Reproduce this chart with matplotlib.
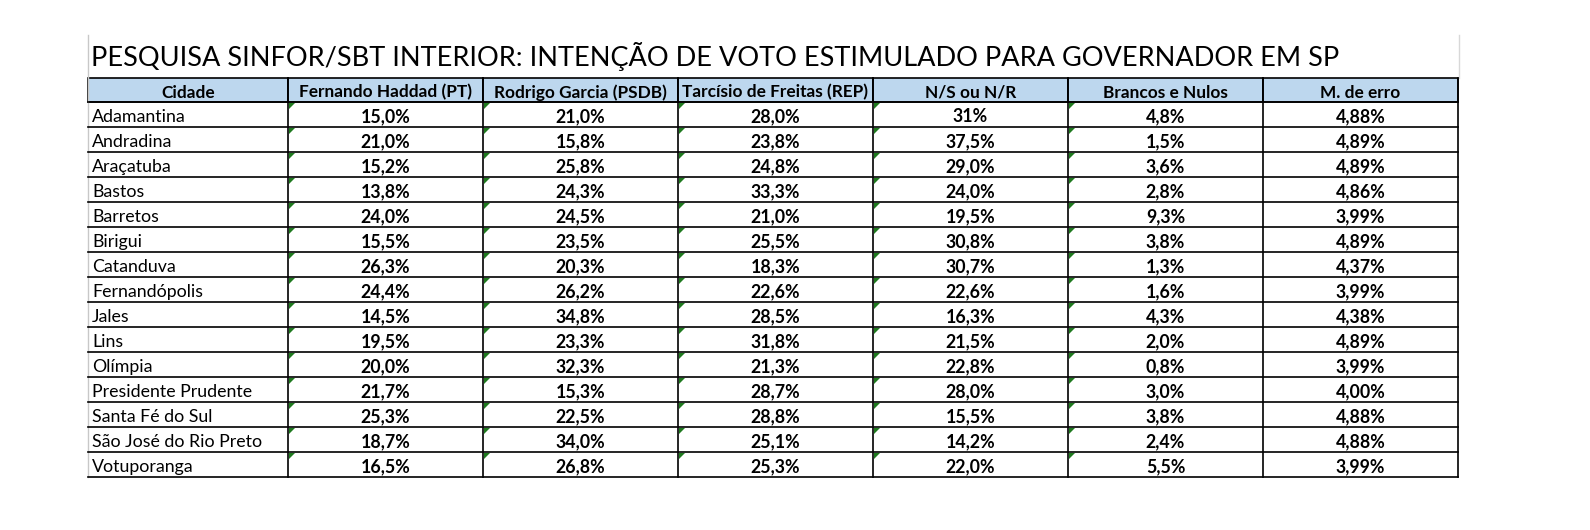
import matplotlib.pyplot as plt
from matplotlib.patches import Rectangle, Polygon

# Dados da tabela
titulo = 'PESQUISA SINFOR/SBT INTERIOR: INTENÇÃO DE VOTO ESTIMULADO PARA GOVERNADOR EM SP'
colunas = ['Cidade', 'Fernando Haddad (PT)', 'Rodrigo Garcia (PSDB)', 'Tarcísio de Freitas (REP)',
           'N/S ou N/R', 'Brancos e Nulos', 'M. de erro']
cidades = ['Adamantina', 'Andradina', 'Araçatuba', 'Bastos', 'Barretos', 'Birigui', 'Catanduva',
           'Fernandópolis', 'Jales', 'Lins', 'Olímpia', 'Presidente Prudente', 'Santa Fé do Sul',
           'São José do Rio Preto', 'Votuporanga']
haddad = ['15,0%', '21,0%', '15,2%', '13,8%', '24,0%', '15,5%', '26,3%', '24,4%', '14,5%', '19,5%',
          '20,0%', '21,7%', '25,3%', '18,7%', '16,5%']
garcia = ['21,0%', '15,8%', '25,8%', '24,3%', '24,5%', '23,5%', '20,3%', '26,2%', '34,8%', '23,3%',
          '32,3%', '15,3%', '22,5%', '34,0%', '26,8%']
tarcisio = ['28,0%', '23,8%', '24,8%', '33,3%', '21,0%', '25,5%', '18,3%', '22,6%', '28,5%', '31,8%',
            '21,3%', '28,7%', '28,8%', '25,1%', '25,3%']
ns_nr = ['31%', '37,5%', '29,0%', '24,0%', '19,5%', '30,8%', '30,7%', '22,6%', '16,3%', '21,5%',
         '22,8%', '28,0%', '15,5%', '14,2%', '22,0%']
brancos = ['4,8%', '1,5%', '3,6%', '2,8%', '9,3%', '3,8%', '1,3%', '1,6%', '4,3%', '2,0%',
           '0,8%', '3,0%', '3,8%', '2,4%', '5,5%']
erro = ['4,88%', '4,89%', '4,89%', '4,86%', '3,99%', '4,89%', '4,37%', '3,99%', '4,38%', '4,89%',
        '3,99%', '4,00%', '4,88%', '4,88%', '3,99%']

plt.rcParams['font.family'] = ['Lato', 'DejaVu Sans']

W, H = 1590, 530
fig = plt.figure(figsize=(W / 100, H / 100), dpi=100)
ax = fig.add_axes([0, 0, 1, 1])
ax.set_xlim(0, W)
ax.set_ylim(H, 0)
ax.axis('off')

# geometria (pixels)
x_bordas = [88, 288, 483, 678, 873, 1068, 1263, 1458]
y_topo = 78
h_cab = 24
h_lin = 25
n = len(cidades)
y_fim = y_topo + h_cab + n * h_lin

# linhas de grade cinzas do Excel
ax.plot([88, 88], [35, y_fim], color='#c8c8c8', lw=1)
ax.plot([1459, 1459], [35, y_topo], color='#d8d8d8', lw=1)

ax.text(91, 66, titulo, fontsize=19.5, ha='left', va='baseline', color='black')

# cabeçalho
for i, col in enumerate(colunas):
    x0, x1 = x_bordas[i], x_bordas[i + 1]
    ax.add_patch(Rectangle((x0, y_topo), x1 - x0, h_cab, facecolor='#bdd7ee',
                           edgecolor='black', lw=1.2))
    ax.text((x0 + x1) / 2, y_topo + h_cab / 2 + 2.5, col, fontsize=12.4, fontweight='bold',
            ha='center', va='center')

valores = [haddad, garcia, tarcisio, ns_nr, brancos, erro]
for r in range(n):
    y0 = y_topo + h_cab + r * h_lin
    ax.text(x_bordas[0] + 4, y0 + h_lin / 2 + 2.5, cidades[r], fontsize=12.8, ha='left', va='center')
    for c, serie in enumerate(valores):
        x0, x1 = x_bordas[c + 1], x_bordas[c + 2]
        ax.text((x0 + x1) / 2, y0 + h_lin / 2 + 2.5, serie[r], fontsize=12.8, fontweight='bold',
                ha='center', va='center')
        if c < 5:
            # triângulo verde (número armazenado como texto)
            ax.add_patch(Polygon([(x0 + 1, y0 + 1), (x0 + 7, y0 + 1), (x0 + 1, y0 + 7)],
                                 closed=True, facecolor='#1f7a1f', edgecolor='none'))

# bordas pretas
for y in [y_topo + h_cab + r * h_lin for r in range(n + 1)]:
    ax.plot([x_bordas[0], x_bordas[-1]], [y, y], color='black', lw=1.2)
for x in x_bordas[1:]:
    ax.plot([x, x], [y_topo, y_fim], color='black', lw=1.2)

fig.savefig('out.png', dpi=100, facecolor='white')
